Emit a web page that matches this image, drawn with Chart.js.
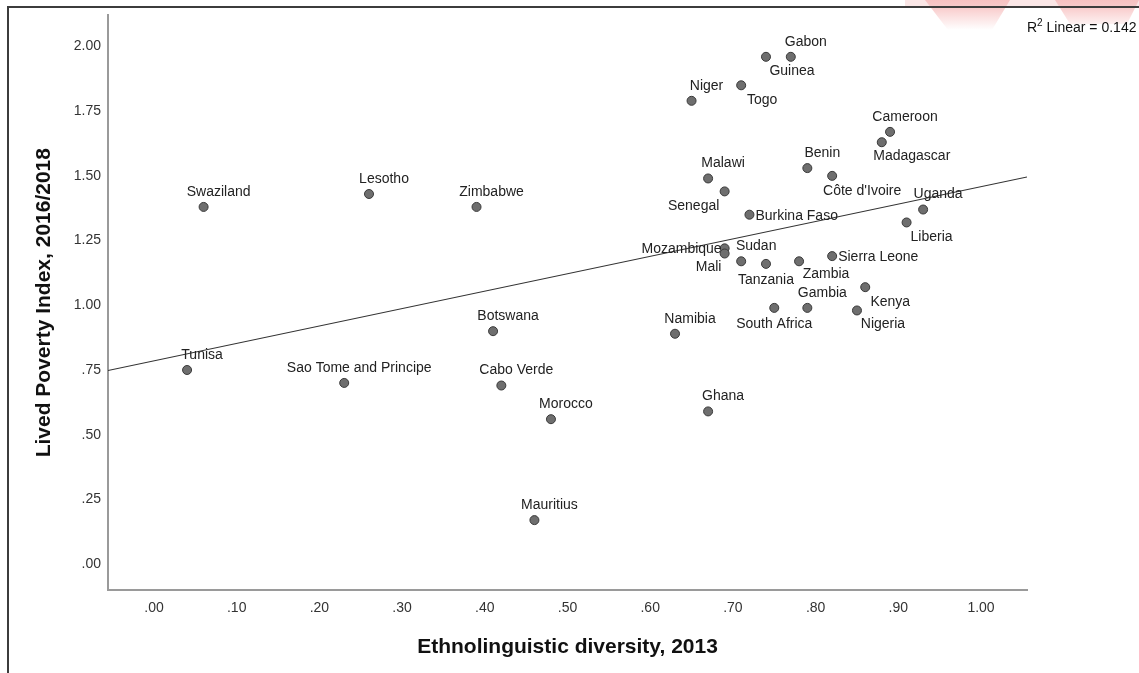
<!DOCTYPE html>
<html>
<head>
<meta charset="utf-8">
<title>Lived Poverty Index vs Ethnolinguistic diversity</title>
<script src="https://cdn.jsdelivr.net/npm/chart.js@4.4.1/dist/chart.umd.min.js"></script>
<style>
  html, body { margin: 0; padding: 0; background: #ffffff; }
  #wrap { position: relative; width: 1139px; height: 673px; }
</style>
</head>
<body>
<div id="wrap"><canvas id="chart" width="1139" height="673"></canvas></div>
<script>
// ---- data ----
const countries = [
  'Swaziland', 'Lesotho', 'Zimbabwe', 'Tunisa', 'Sao Tome and Principe', 'Botswana',
  'Cabo Verde', 'Morocco', 'Mauritius', 'Namibia', 'Ghana', 'Gabon', 'Guinea', 'Niger',
  'Togo', 'Cameroon', 'Madagascar', 'Benin', "Côte d'Ivoire", 'Malawi', 'Senegal',
  'Burkina Faso', 'Uganda', 'Liberia', 'Mozambique', 'Mali', 'Sudan', 'Tanzania',
  'Zambia', 'Sierra Leone', 'Gambia', 'South Africa', 'Kenya', 'Nigeria'
];
const diversity = [
  0.06, 0.26, 0.39, 0.04, 0.23, 0.41,
  0.42, 0.48, 0.46, 0.63, 0.67, 0.77, 0.74, 0.65,
  0.71, 0.89, 0.88, 0.79, 0.82, 0.67, 0.69,
  0.72, 0.93, 0.91, 0.69, 0.69, 0.71, 0.74,
  0.78, 0.82, 0.79, 0.75, 0.86, 0.85
];
const povertyIndex = [
  1.38, 1.43, 1.38, 0.75, 0.70, 0.90,
  0.69, 0.56, 0.17, 0.89, 0.59, 1.96, 1.96, 1.79,
  1.85, 1.67, 1.63, 1.53, 1.50, 1.49, 1.44,
  1.35, 1.37, 1.32, 1.22, 1.20, 1.17, 1.16,
  1.17, 1.19, 0.99, 0.99, 1.07, 0.98
];

const xTickValues = [0, 0.1, 0.2, 0.3, 0.4, 0.5, 0.6, 0.7, 0.8, 0.9, 1.0];
const xTickLabels = ['.00', '.10', '.20', '.30', '.40', '.50', '.60', '.70', '.80', '.90', '1.00'];
const yTickValues = [0, 0.25, 0.5, 0.75, 1.0, 1.25, 1.5, 1.75, 2.0];
const yTickLabels = ['.00', '.25', '.50', '.75', '1.00', '1.25', '1.50', '1.75', '2.00'];
const xRange = [-0.0556, 1.0556];
const yRange = [-0.10, 2.12];

// ---- label placement (pixel offset from the marker, text alignment) ----
const ABOVE = [15, -15, 'center'];
const labelPlacement = [
  ABOVE, ABOVE, ABOVE, ABOVE, ABOVE, ABOVE,
  ABOVE, ABOVE, ABOVE, ABOVE, ABOVE, ABOVE, [26, 14, 'center'], ABOVE,
  [21, 15, 'center'], ABOVE, [30, 14, 'center'], ABOVE, [30, 15, 'center'], ABOVE, [-31, 15, 'center'],
  [6, 1, 'left'], ABOVE, [25, 15, 'center'], [-3, 1, 'right'], [-16, 14, 'center'], ABOVE, [0, 16, 'center'],
  [27, 13, 'center'], [6, 1, 'left'], ABOVE, [0, 16, 'center'], [25, 15, 'center'], [26, 14, 'center']
];

// ---- least-squares fit line ----
function linearFit(xs, ys) {
  const n = xs.length;
  const mx = xs.reduce((a, b) => a + b, 0) / n;
  const my = ys.reduce((a, b) => a + b, 0) / n;
  let sxy = 0, sxx = 0, syy = 0;
  for (let i = 0; i < n; i++) {
    sxy += (xs[i] - mx) * (ys[i] - my);
    sxx += (xs[i] - mx) ** 2;
    syy += (ys[i] - my) ** 2;
  }
  const slope = sxy / sxx;
  return { slope, intercept: my - slope * mx, r2: (sxy * sxy) / (sxx * syy) };
}
const fit = linearFit(diversity, povertyIndex);

const FONT = '"Liberation Sans", Arial, Helvetica, sans-serif';
Chart.defaults.font.family = FONT;

const points = diversity.map((x, i) => ({ x, y: povertyIndex[i] }));
const fitLine = xRange.map(x => ({ x, y: fit.intercept + fit.slope * x }));

// page frame and faint corner logo
const framePlugin = {
  id: 'frame',
  beforeDraw(chart) {
    const ctx = chart.ctx;
    ctx.save();
    ctx.fillStyle = '#ffffff';
    ctx.fillRect(0, 0, chart.width, chart.height);
    const g = ctx.createLinearGradient(0, 0, 0, 30);
    g.addColorStop(0, 'rgba(238,120,120,0.5)');
    g.addColorStop(1, 'rgba(238,120,120,0)');
    ctx.fillStyle = g;
    ctx.beginPath();
    ctx.moveTo(925, 0); ctx.lineTo(1010, 0); ctx.lineTo(992, 30); ctx.lineTo(948, 30); ctx.closePath();
    ctx.fill();
    ctx.beginPath();
    ctx.moveTo(1055, 0); ctx.lineTo(1139, 0); ctx.lineTo(1127, 24); ctx.lineTo(1070, 24); ctx.closePath();
    ctx.fill();
    ctx.fillStyle = 'rgba(245,200,200,0.45)';
    ctx.fillRect(905, 0, 234, 6);
    ctx.strokeStyle = '#3c3c3c';
    ctx.lineWidth = 2;
    ctx.beginPath();
    ctx.moveTo(8, chart.height);
    ctx.lineTo(8, 7);
    ctx.lineTo(chart.width, 7);
    ctx.stroke();
    ctx.restore();
  }
};

// country names beside markers, and the R² note
const labelPlugin = {
  id: 'pointLabels',
  afterDatasetsDraw(chart) {
    const ctx = chart.ctx;
    const meta = chart.getDatasetMeta(1);
    ctx.save();
    ctx.font = '14px ' + FONT;
    ctx.fillStyle = '#222222';
    ctx.textBaseline = 'middle';
    meta.data.forEach((el, i) => {
      const [dx, dy, align] = labelPlacement[i];
      ctx.textAlign = align;
      ctx.fillText(countries[i], el.x + dx, el.y + dy);
    });
    // R² annotation at the right end of the plot
    const x0 = chart.chartArea.right;
    const base = 32;
    ctx.textAlign = 'left';
    ctx.textBaseline = 'alphabetic';
    ctx.fillStyle = '#111111';
    ctx.font = '14px ' + FONT;
    ctx.fillText('R', x0, base);
    let x = x0 + ctx.measureText('R').width;
    ctx.font = '10px ' + FONT;
    ctx.fillText('2', x, base - 6);
    x += ctx.measureText('2').width;
    ctx.font = '14px ' + FONT;
    ctx.fillText(' Linear = ' + fit.r2.toFixed(3), x, base);
    ctx.restore();
  }
};

new Chart(document.getElementById('chart'), {
  type: 'scatter',
  data: {
    datasets: [
      {
        type: 'line',
        label: 'Linear fit',
        data: fitLine,
        borderColor: '#333333',
        borderWidth: 1.2,
        pointRadius: 0,
        fill: false,
        order: 0
      },
      {
        label: 'Countries',
        data: points,
        pointRadius: 4.5,
        pointHoverRadius: 4.5,
        pointBackgroundColor: '#6e6e6e',
        pointBorderColor: '#3a3a3a',
        pointBorderWidth: 1,
        order: 1
      }
    ]
  },
  options: {
    responsive: false,
    animation: false,
    devicePixelRatio: 1,
    layout: { padding: { left: 0, top: 15, right: 112, bottom: 0 } },
    plugins: {
      legend: { display: false },
      tooltip: { enabled: false }
    },
    scales: {
      x: {
        type: 'linear',
        min: xRange[0],
        max: xRange[1],
        afterFit(scale) { scale.height = 83; },
        afterBuildTicks(scale) { scale.ticks = xTickValues.map(v => ({ value: v })); },
        grid: { display: false, drawTicks: false },
        border: { display: true, color: '#9a9a9a', width: 2 },
        ticks: {
          padding: 10,
          color: '#333333',
          font: { size: 14 },
          maxRotation: 0,
          callback: (v, i) => xTickLabels[i]
        },
        title: {
          display: true,
          text: 'Ethnolinguistic diversity, 2013',
          color: '#111111',
          font: { size: 21, weight: 'bold' },
          padding: { top: 0, bottom: 13 }
        }
      },
      y: {
        type: 'linear',
        min: yRange[0],
        max: yRange[1],
        afterFit(scale) { scale.width = 108; },
        afterBuildTicks(scale) { scale.ticks = yTickValues.map(v => ({ value: v })); },
        grid: { display: false, drawTicks: false },
        border: { display: true, color: '#9a9a9a', width: 2 },
        ticks: {
          padding: 7,
          color: '#333333',
          font: { size: 14 },
          callback: (v, i) => yTickLabels[i]
        },
        title: {
          display: true,
          text: 'Lived Poverty Index, 2016/2018',
          color: '#111111',
          font: { size: 21, weight: 'bold' },
          padding: { top: 32, bottom: 0 }
        }
      }
    }
  },
  plugins: [framePlugin, labelPlugin]
});
</script>
</body>
</html>
